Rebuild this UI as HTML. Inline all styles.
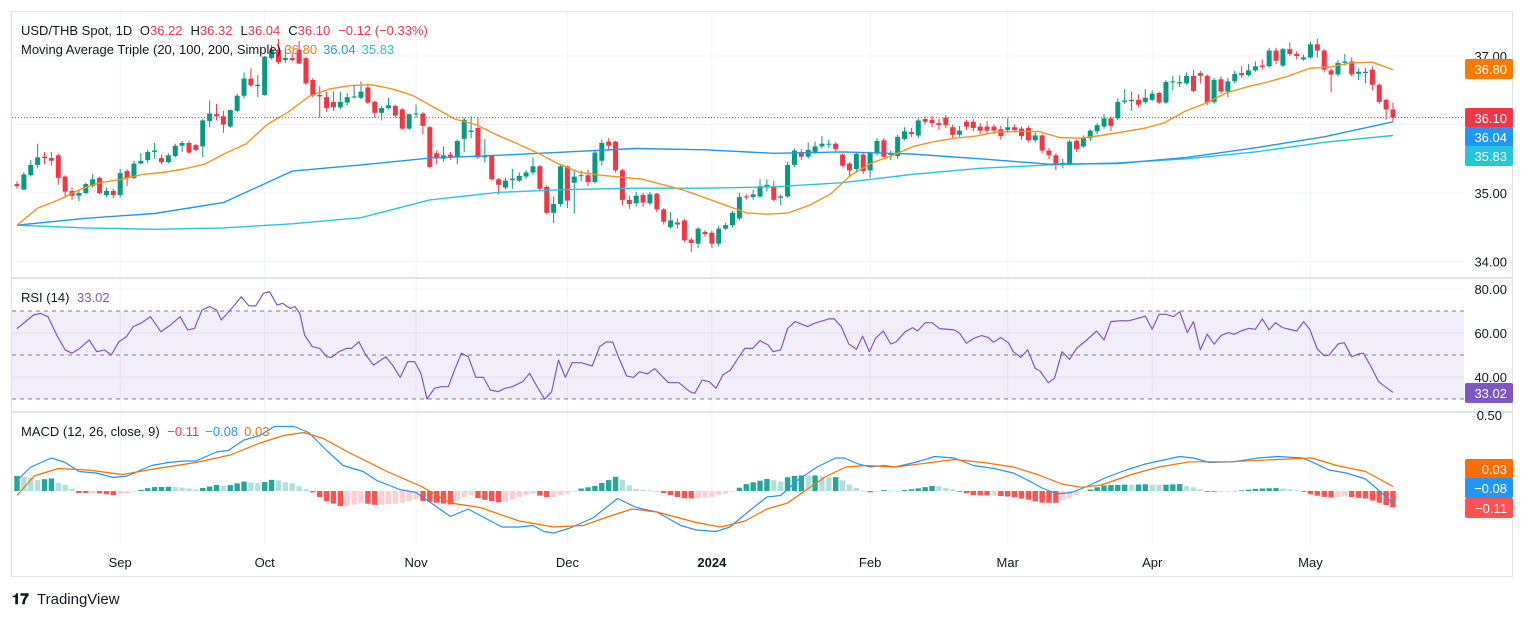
<!DOCTYPE html>
<html><head><meta charset="utf-8"><style>
html,body{margin:0;padding:0;background:#fff;}
svg{display:block;font-family:"Liberation Sans",sans-serif;}
</style></head><body>
<svg id="chart" width="1536" height="618" viewBox="0 0 1536 618" xmlns="http://www.w3.org/2000/svg">
<defs>
<clipPath id="cp-price"><rect x="12" y="12" width="1452" height="265"/></clipPath>
<clipPath id="cp-rsi"><rect x="12" y="279" width="1452" height="132"/></clipPath>
<clipPath id="cp-macd"><rect x="12" y="413" width="1452" height="132"/></clipPath>
</defs>
<rect x="11.5" y="11.5" width="1501" height="565" fill="#fff" stroke="#e0e3eb"/>
<g id="grid"></g>
<line x1="12" y1="278" x2="1513" y2="278" stroke="#e0e3eb" stroke-width="2"/>
<line x1="12" y1="412" x2="1513" y2="412" stroke="#e0e3eb" stroke-width="2"/>
<g id="price" clip-path="url(#cp-price)"></g>
<g id="rsi" clip-path="url(#cp-rsi)"></g>
<g id="macd" clip-path="url(#cp-macd)"></g>
<g id="axes"></g>

<text x="21" y="35" font-size="13" fill="#131722">USD/THB Spot, 1D <tspan dx="4">O</tspan><tspan fill="#f23645">36.22</tspan><tspan dx="8">H</tspan><tspan fill="#f23645">36.32</tspan><tspan dx="8">L</tspan><tspan fill="#f23645">36.04</tspan><tspan dx="8">C</tspan><tspan fill="#f23645">36.10</tspan><tspan dx="8" fill="#f23645">−0.12 (−0.33%)</tspan></text>
<text x="21" y="54" font-size="13" fill="#131722">Moving Average Triple (20, 100, 200, Simple) <tspan fill="#f57c00">36.80</tspan><tspan dx="6" fill="#2196f3">36.04</tspan><tspan dx="6" fill="#26c6da">35.83</tspan></text>
<text x="21" y="302" font-size="13" fill="#131722">RSI (14) <tspan dx="4" fill="#7e57c2">33.02</tspan></text>
<text x="21" y="436" font-size="13" fill="#131722">MACD (12, 26, close, 9) <tspan dx="4" fill="#f23645">−0.11</tspan><tspan dx="6" fill="#2196f3">−0.08</tspan><tspan dx="6" fill="#ff6d00">0.03</tspan></text>

<g>
<text x="12" y="604" font-size="15" font-weight="bold" fill="#131722">𝟏𝟕</text>
<text x="37" y="604" font-size="15" fill="#131722">TradingView</text>
</g>
</svg>
<script>
// ---- data ----
const opens = [35.13,35.05,35.26,35.41,35.53,35.51,35.55,35.24,35.03,34.96,35.00,35.10,35.22,34.97,35.03,34.97,35.32,35.22,35.43,35.48,35.60,35.51,35.45,35.54,35.69,35.73,35.70,35.68,36.05,36.15,36.12,35.97,36.20,36.42,36.67,36.56,36.43,36.97,37.09,36.94,36.97,37.09,36.97,36.65,36.43,36.40,36.33,36.25,36.32,36.40,36.39,36.54,36.33,36.17,36.24,36.27,36.22,35.94,36.15,36.16,35.96,35.58,35.50,35.56,35.53,35.79,35.89,35.95,35.52,35.54,35.20,35.08,35.19,35.18,35.24,35.30,35.39,35.09,34.71,34.84,35.39,35.15,35.25,35.26,35.16,35.47,35.75,35.75,35.33,34.90,34.85,34.97,34.85,34.99,34.76,34.50,34.57,34.60,34.32,34.26,34.43,34.42,34.26,34.48,34.53,34.63,34.95,34.94,34.95,35.08,35.10,34.93,34.95,35.41,35.60,35.53,35.60,35.68,35.72,35.72,35.56,35.43,35.35,35.56,35.33,35.58,35.77,35.56,35.54,35.79,35.89,35.84,36.08,36.07,36.02,36.10,35.96,35.85,36.04,36.04,35.97,35.97,35.97,35.93,35.92,35.96,35.94,35.95,35.77,35.84,35.62,35.55,35.42,35.43,35.76,35.68,35.80,35.90,35.97,36.09,36.09,36.33,36.34,36.36,36.33,36.36,36.46,36.32,36.62,36.60,36.60,36.71,36.75,36.71,36.33,36.66,36.48,36.63,36.75,36.72,36.79,36.86,36.85,37.08,36.86,37.10,37.03,36.95,36.98,37.17,37.08,36.79,36.73,36.90,36.92,36.74,36.75,36.80,36.58,36.36,36.22];
const closes = [35.10,35.27,35.41,35.52,35.51,35.47,35.22,35.02,34.96,35.00,35.13,35.20,35.00,35.03,34.97,35.29,35.22,35.43,35.47,35.60,35.62,35.45,35.55,35.69,35.73,35.59,35.63,36.06,36.16,36.12,36.00,36.21,36.42,36.67,36.57,36.58,36.99,37.08,36.91,36.97,36.94,36.89,36.60,36.43,36.41,36.24,36.25,36.33,36.40,36.41,36.48,36.32,36.17,36.24,36.28,36.13,35.94,36.15,36.16,35.98,35.38,35.51,35.55,35.53,35.76,36.07,35.91,35.52,35.54,35.20,35.12,35.18,35.21,35.25,35.30,35.39,35.06,34.71,34.84,35.39,34.89,35.24,35.26,35.16,35.59,35.73,35.69,35.33,34.90,34.84,34.96,34.86,34.98,34.76,34.58,34.60,34.54,34.31,34.27,34.48,34.40,34.26,34.48,34.53,34.71,34.94,34.94,34.98,35.10,35.12,34.90,34.95,35.41,35.62,35.53,35.63,35.68,35.72,35.72,35.64,35.40,35.33,35.57,35.32,35.58,35.76,35.53,35.57,35.82,35.90,35.86,36.06,36.04,36.02,35.99,35.99,35.85,35.91,35.97,35.95,35.91,35.91,35.91,35.83,35.96,35.92,35.83,35.77,35.84,35.62,35.55,35.41,35.44,35.75,35.64,35.80,35.91,35.99,36.09,35.98,36.33,36.35,36.36,36.29,36.39,36.45,36.32,36.62,36.63,36.62,36.71,36.49,36.71,36.32,36.65,36.48,36.63,36.74,36.72,36.79,36.85,36.84,37.08,36.93,37.10,37.03,37.00,36.98,37.17,37.08,36.80,36.73,36.90,36.92,36.73,36.77,36.77,36.58,36.33,36.22,36.10];
const highs = [35.17,35.30,35.48,35.72,35.60,35.60,35.58,35.26,35.08,35.05,35.15,35.28,35.24,35.08,35.06,35.35,35.35,35.47,35.58,35.63,35.73,35.56,35.58,35.72,35.76,35.76,35.72,36.08,36.35,36.30,36.20,36.22,36.45,36.76,36.82,36.72,37.00,37.16,37.25,37.12,37.05,37.22,36.99,36.68,36.56,36.48,36.48,36.48,36.46,36.58,36.63,36.60,36.35,36.27,36.39,36.29,36.24,36.16,36.29,36.18,35.98,35.62,35.68,35.60,35.78,36.10,36.12,36.10,35.79,35.56,35.22,35.22,35.35,35.30,35.33,35.52,35.41,35.11,34.95,35.40,35.40,35.32,35.33,35.34,35.63,35.78,35.80,35.76,35.35,34.96,35.02,35.00,35.02,35.00,34.78,34.72,34.63,34.62,34.35,34.50,34.46,34.45,34.52,34.56,34.74,35.00,34.98,35.05,35.20,35.20,35.18,34.98,35.45,35.65,35.64,35.74,35.75,35.83,35.78,35.74,35.58,35.45,35.60,35.58,35.60,35.80,35.80,35.62,35.85,35.96,35.95,36.09,36.12,36.12,36.08,36.14,36.00,35.98,36.07,36.08,36.02,36.05,36.00,35.98,36.10,36.00,35.97,35.98,35.90,35.86,35.66,35.58,35.50,35.78,35.78,35.84,35.93,36.02,36.15,36.12,36.38,36.52,36.48,36.44,36.52,36.50,36.48,36.65,36.71,36.72,36.76,36.80,36.78,36.73,36.68,36.70,36.68,36.78,36.85,36.88,36.92,36.95,37.12,37.12,37.12,37.20,37.07,37.02,37.21,37.25,37.10,36.82,36.94,37.03,36.98,36.82,36.82,36.85,36.60,36.38,36.32];
const lows = [35.06,35.04,35.24,35.36,35.42,35.40,35.12,34.93,34.90,34.88,34.98,35.08,34.98,34.94,34.92,34.93,35.10,35.20,35.42,35.44,35.50,35.42,35.43,35.52,35.60,35.57,35.61,35.52,35.96,36.06,35.88,35.95,36.18,36.38,36.55,36.40,36.42,36.95,36.88,36.90,36.92,36.88,36.58,36.40,36.10,36.18,36.20,36.22,36.28,36.38,36.37,36.30,36.10,36.06,36.22,36.10,35.92,35.92,36.10,35.86,35.36,35.42,35.46,35.48,35.42,35.60,35.80,35.50,35.45,35.18,34.98,35.05,35.06,35.16,35.21,35.26,35.04,34.69,34.56,34.80,34.78,34.70,35.17,35.10,35.14,35.40,35.62,35.30,34.82,34.77,34.80,34.80,34.82,34.72,34.54,34.48,34.48,34.28,34.14,34.20,34.36,34.20,34.22,34.46,34.50,34.60,34.90,34.90,34.93,35.02,34.88,34.82,34.93,35.38,35.48,35.50,35.57,35.65,35.66,35.60,35.38,35.25,35.30,35.28,35.22,35.55,35.50,35.48,35.50,35.77,35.82,35.80,36.00,35.96,35.92,35.95,35.80,35.82,35.92,35.90,35.86,35.86,35.86,35.78,35.88,35.88,35.78,35.74,35.74,35.58,35.50,35.33,35.36,35.40,35.60,35.66,35.76,35.86,35.94,35.90,36.06,36.30,36.20,36.25,36.30,36.34,36.30,36.30,36.50,36.55,36.58,36.47,36.60,36.28,36.30,36.45,36.40,36.60,36.68,36.70,36.77,36.80,36.83,36.88,36.84,37.00,36.95,36.93,36.96,36.98,36.76,36.47,36.70,36.86,36.70,36.65,36.60,36.50,36.30,36.07,36.04];

const ma20 = [34.53,34.78,34.90,35.05,35.15,35.20,35.27,35.30,35.35,35.42,35.58,35.72,36.00,36.18,36.41,36.52,36.57,36.58,36.52,36.42,36.25,36.08,36.00,35.85,35.72,35.58,35.42,35.30,35.26,35.23,35.20,35.12,35.04,34.93,34.82,34.71,34.69,34.71,34.82,34.98,35.26,35.44,35.55,35.68,35.75,35.80,35.83,35.89,35.90,35.90,35.81,35.80,35.84,35.89,35.94,36.02,36.19,36.31,36.46,36.55,36.62,36.71,36.82,36.84,36.90,36.91,36.80];
const maLongDays = [0,10,20,30,40,50,60,70,80,90,100,110,120,130,140,150,160,170,180,190,200];
const ma100 = [34.53,34.63,34.70,34.86,35.32,35.41,35.51,35.55,35.60,35.65,35.63,35.58,35.60,35.57,35.50,35.42,35.43,35.52,35.66,35.82,36.04];
const ma200 = [34.53,34.49,34.47,34.49,34.55,34.64,34.90,35.01,35.05,35.07,35.07,35.09,35.15,35.27,35.36,35.41,35.44,35.50,35.60,35.74,35.84];

const rsiDays = [0,2.4,3.4,4.5,5.9,7,8,9.1,10.5,11.6,12.7,13.7,14.8,15.9,16.9,18,19.4,20.9,22.3,23.7,24.8,25.8,26.9,28,29,29.7,31.2,32.6,33.7,34.7,35.8,36.7,37.8,38.6,39.7,40.4,41.1,41.8,42.9,44,45,45.7,46.8,47.9,48.6,49.7,50.7,51.8,53.6,54.6,55.7,56.8,57.8,58.7,59.6,60.7,61.7,62.7,63.5,64.6,65.6,66.7,67.8,68.8,69.9,71,72,73.5,74.5,75.6,76.7,77.7,78.7,79.7,80.7,82,83.6,84.7,85.7,86.6,87.5,88.6,89.6,90.5,91.6,92.7,93.7,94.7,96.2,97.8,98.5,99.6,100.6,101.6,102.6,103.7,104.8,105.8,106.9,108,109.2,109.9,111,112,113.1,114.9,115.9,118,118.8,119.8,120.9,122,122.9,123.9,124.8,125.9,127,127.8,129.1,130.2,130.9,132,133,134.1,136.2,137,138,139.1,140.2,141.2,141.9,143,144.1,144.8,145.9,146.9,148,148.7,149.9,150.8,151.9,153,154,155.5,156.9,158,159,160.5,161.5,162.6,164,165,166,167,168.1,169,170.1,171,172,173,174,175,176.1,176.9,177.9,179,180,181,182,182.9,184,186,187,187.9,189,190,190.7,192,192.9,194,195,195.7,196.8,197.9,199,200];
const rsiVals = [62,68.2,68.9,67.4,58.3,52.3,50.8,53,56.8,51.5,52.3,50,56,58.3,62.9,64.4,67.4,60.6,63.6,67.4,61.4,62.1,70.5,72,70.5,65.9,71.2,76.5,72.3,72.3,78,78.8,72.7,73.5,71.2,72,68.9,59.1,53.8,53,49.2,48.9,51.5,53,53,56,50,45.4,49.2,45.4,39.8,47,47,41.7,30,34.9,35.6,35.6,42.4,50.8,49.2,39.8,39.8,34.1,33.3,34.9,35.6,37.9,41.7,35.6,29.9,33.3,47.7,39.8,46.5,46.5,45,53.8,56,55.8,48.5,40.5,39.8,42.4,41.4,43.8,40.5,37.4,37.4,33.3,32.6,38.6,37.9,34.9,40.9,43.2,48.5,53,53,56.5,54.5,51.5,52.3,62.1,65.2,62.9,64.4,66.4,66.4,62.9,55,52.6,58.6,51.5,57.6,60.9,55,56,60.6,62.4,60.9,64.7,64.7,62,61.4,59.9,55.3,57.6,58.8,57.9,55.8,57.9,55.6,51.5,48.9,52.3,43.9,42.7,37.4,39.4,51.5,48,53,56.8,60.9,56.8,65.2,65.6,65.5,66.4,67.7,61.7,68.5,68.5,67.4,69.7,60.2,65.2,52.3,59.5,54.9,58.8,60.2,59.4,60.9,62.1,61.7,66.4,61.4,64.7,62.4,60.9,65.2,61.7,52.7,49.7,49.9,55,55.6,49.2,50.5,50.8,44.7,37.9,35.3,33.02];

const macdDays = [0,2,5,7,9,11.5,14,16,19.6,22,24.3,26,29,30.7,33,35.3,37.4,40.3,42.4,45,47.4,50.3,52.3,55.6,58,60.2,63,65.6,68,70.5,73,75,76.6,78,80.2,83.7,87.3,90,93,96.5,98.7,101.6,103.6,106.5,109,111,113.4,116.3,119,120.2,122.3,124,126,127.6,130.5,133.4,136.2,139,142,144.8,147,149,151.2,153.3,155.5,158.3,161.2,164,166,169,171,173.3,176.8,180.4,183.3,186.8,188.2,190.7,193.2,196,197.8,200];
const macdVals = [0.07,0.16,0.22,0.19,0.13,0.12,0.09,0.10,0.17,0.19,0.20,0.20,0.26,0.27,0.34,0.37,0.43,0.43,0.39,0.27,0.17,0.13,0.07,0.01,-0.01,-0.08,-0.17,-0.12,-0.18,-0.24,-0.24,-0.23,-0.27,-0.28,-0.25,-0.18,-0.05,-0.11,-0.14,-0.23,-0.26,-0.27,-0.24,-0.13,-0.04,-0.03,0.07,0.16,0.22,0.22,0.18,0.16,0.17,0.16,0.19,0.23,0.22,0.17,0.15,0.12,0.07,0.02,-0.02,-0.01,0.03,0.09,0.14,0.18,0.20,0.23,0.22,0.19,0.195,0.22,0.23,0.22,0.195,0.14,0.12,0.08,0.01,-0.08];
const signalDays = [0,2.5,6,10.3,15.3,20.3,26,31,35.3,38.8,41.7,44.5,48.1,53.8,58.8,63,67.3,73,78,82.3,86,89.4,93,98.7,102.3,105.8,109,112,114.8,117.7,120.5,123.4,127.6,132,136.2,140.5,144.8,148.3,152,154.8,157.6,162,166,170.4,176,183.3,188.2,191.8,196,200];
const signalVals = [-0.03,0.10,0.15,0.14,0.11,0.15,0.19,0.24,0.32,0.37,0.39,0.35,0.26,0.13,0.03,-0.08,-0.11,-0.20,-0.24,-0.23,-0.17,-0.12,-0.14,-0.21,-0.24,-0.20,-0.12,-0.08,0.01,0.10,0.16,0.17,0.16,0.185,0.21,0.19,0.16,0.11,0.045,0.025,0.04,0.11,0.16,0.195,0.195,0.21,0.22,0.17,0.13,0.03];

const monthLabels = ["Sep","Oct","Nov","Dec","2024","Feb","Mar","Apr","May"];
const monthDays = [15,36,58,80,101,124,144,165,188];
const priceTicks = [37,36,35,34];
const priceTickLabels = ["37.00","36.00","35.00","34.00"];
const rsiTicks = [80,60,40];
const rsiTickLabels = ["80.00","60.00","40.00"];
const rsiLevels = [70,50,30];

// ---- axis functions ----
const X0 = 17, STEP = 6.88;
const xOf = i => X0 + i * STEP;
const yP = p => 56 + (37 - p) * 68.5;
const yR = v => 289 + (80 - v) * 2.2;
const yM = v => 491 - v * 150;

const NS = "http://www.w3.org/2000/svg";
function mk(tag, attrs, parent) {
  const el = document.createElementNS(NS, tag);
  for (const k in attrs) el.setAttribute(k, attrs[k]);
  parent.appendChild(el);
  return el;
}
function interp(days, vals, d) {
  if (d <= days[0]) return vals[0];
  for (let k = 1; k < days.length; k++) {
    if (d <= days[k]) { const t = (d - days[k-1]) / (days[k] - days[k-1]); return vals[k-1] + t * (vals[k] - vals[k-1]); }
  }
  return vals[vals.length - 1];
}
const grid = document.getElementById('grid');
const price = document.getElementById('price');
const rsi = document.getElementById('rsi');
const macd = document.getElementById('macd');
const axes = document.getElementById('axes');

// grid
monthDays.forEach((d, k) => {
  const l = mk('line', {x1: xOf(d), x2: xOf(d), y1: 12, y2: 545, stroke: '#f0f3fa'}, grid);
  
  
  const t = mk('text', {x: xOf(d), y: 567, 'font-size': 13, fill: '#131722', 'text-anchor': 'middle', 'font-weight': monthLabels[k] === '2024' ? 'bold' : 'normal'}, axes);
  t.textContent = monthLabels[k];
  
  
});
priceTicks.forEach((p, k) => {
  const l = mk('line', {x1: 12, x2: 1464, y1: yP(p), y2: yP(p), stroke: '#f0f3fa'}, grid);
  
  
  const t = mk('text', {x: 1507, y: yP(p) + 5, 'font-size': 13, fill: '#131722', 'text-anchor': 'end'}, axes);
  t.textContent = priceTickLabels[k];
  
  
});
rsiTicks.forEach((v, k) => {
  const l = mk('line', {x1: 12, x2: 1464, y1: yR(v), y2: yR(v), stroke: '#f0f3fa'}, grid);
  
  
  const t = mk('text', {x: 1507, y: yR(v) + 5, 'font-size': 13, fill: '#131722', 'text-anchor': 'end'}, axes);
  t.textContent = rsiTickLabels[k];
  
  
});
{
  const t = mk('text', {x: 1502, y: yM(0.5) + 4, 'font-size': 13, fill: '#131722', 'text-anchor': 'end'}, axes);
  t.textContent = '0.50';
  
  
}

// price: candles
const N = closes.length;
for (let i = 0; i < N; i++) {
  const up = closes[i] >= opens[i];
  const col = up ? '#089981' : '#f23645';
  const g = mk('g', {}, price);
  
  
  const x = xOf(i);
  mk('line', {x1: x, x2: x, y1: yP(highs[i]), y2: yP(lows[i]), stroke: col, 'stroke-width': 1}, g);
  const top = yP(Math.max(opens[i], closes[i]));
  const h = Math.max(1, yP(Math.min(opens[i], closes[i])) - top);
  mk('rect', {x: x - 2.5, y: top, width: 5, height: h, fill: col}, g);
}
function poly(parent, days, vals, yf, color, name, w) {
  const pts = days.map((d, k) => xOf(d).toFixed(1) + ',' + yf(vals[k]).toFixed(1)).join(' ');
  const p = mk('polyline', {points: pts, fill: 'none', stroke: color, 'stroke-width': w || 1.4, 'stroke-linejoin': 'round'}, parent);
  
  
  return p;
}
const ma20Days = ma20.map((v, k) => k * 200 / (ma20.length - 1));
poly(price, maLongDays, ma200, yP, '#26c6da', 'ma200-line');
poly(price, maLongDays, ma100, yP, '#2196f3', 'ma100-line');
poly(price, ma20Days, ma20, yP, '#f7931e', 'ma20-line');
{
  const l = mk('line', {x1: 12, x2: 1464, y1: yP(closes[N-1]), y2: yP(closes[N-1]), stroke: '#f23645', 'stroke-dasharray': '1 2'}, price);
  
  
}

// rsi
{
  const b = mk('rect', {x: 12, y: yR(70), width: 1452, height: yR(30) - yR(70), fill: 'rgba(126,87,194,0.1)'}, rsi);
  
  
  rsiLevels.forEach(v => {
    const l = mk('line', {x1: 12, x2: 1464, y1: yR(v), y2: yR(v), stroke: '#787b86', 'stroke-dasharray': '4 4'}, rsi);
    
    
  });
  poly(rsi, rsiDays, rsiVals, yR, '#7e57c2', 'rsi-line', 1.2);
}

// macd histogram
{
  let prev = null;
  for (let i = 0; i < N; i++) {
    const h = interp(macdDays, macdVals, i) - interp(signalDays, signalVals, i);
    let col;
    if (h >= 0) col = (prev === null || h >= prev) ? '#26a69a' : '#b2dfdb';
    else col = (prev === null || h <= prev) ? '#ff5252' : '#ffcdd2';
    const y0 = yM(0), y1 = yM(h);
    const r = mk('rect', {x: xOf(i) - 2.7, y: Math.min(y0, y1), width: 5.4, height: Math.max(0.8, Math.abs(y1 - y0)), fill: col}, macd);
    
    
    prev = h;
  }
  poly(macd, macdDays, macdVals, yM, '#2196f3', 'macd-line', 1.2);
  poly(macd, signalDays, signalVals, yM, '#ff6d00', 'signal-line', 1.2);
}

// axis value labels
function tag(yc, text, bg, name) {
  const g = mk('g', {}, axes);
  
  
  mk('rect', {x: 1465, y: yc - 10, width: 48, height: 20, rx: 2, fill: bg}, g);
  const t = mk('text', {x: 1507, y: yc + 5, 'font-size': 13, fill: '#fff', 'text-anchor': 'end'}, g);
  t.textContent = text;
}
tag(69, '36.80', '#f57c00', 'ma20-value-label');
tag(118, '36.10', '#f23645', 'last-price-label');
tag(137, '36.04', '#2196f3', 'ma100-value-label');
tag(156, '35.83', '#26c6da', 'ma200-value-label');
tag(393, '33.02', '#7e57c2', 'rsi-value-label');
tag(469, '0.03', '#ff6d00', 'signal-value-label');
tag(488, '−0.08', '#2196f3', 'macd-value-label');
tag(508, '−0.11', '#ff5252', 'histogram-value-label');
</script>
</body></html>
